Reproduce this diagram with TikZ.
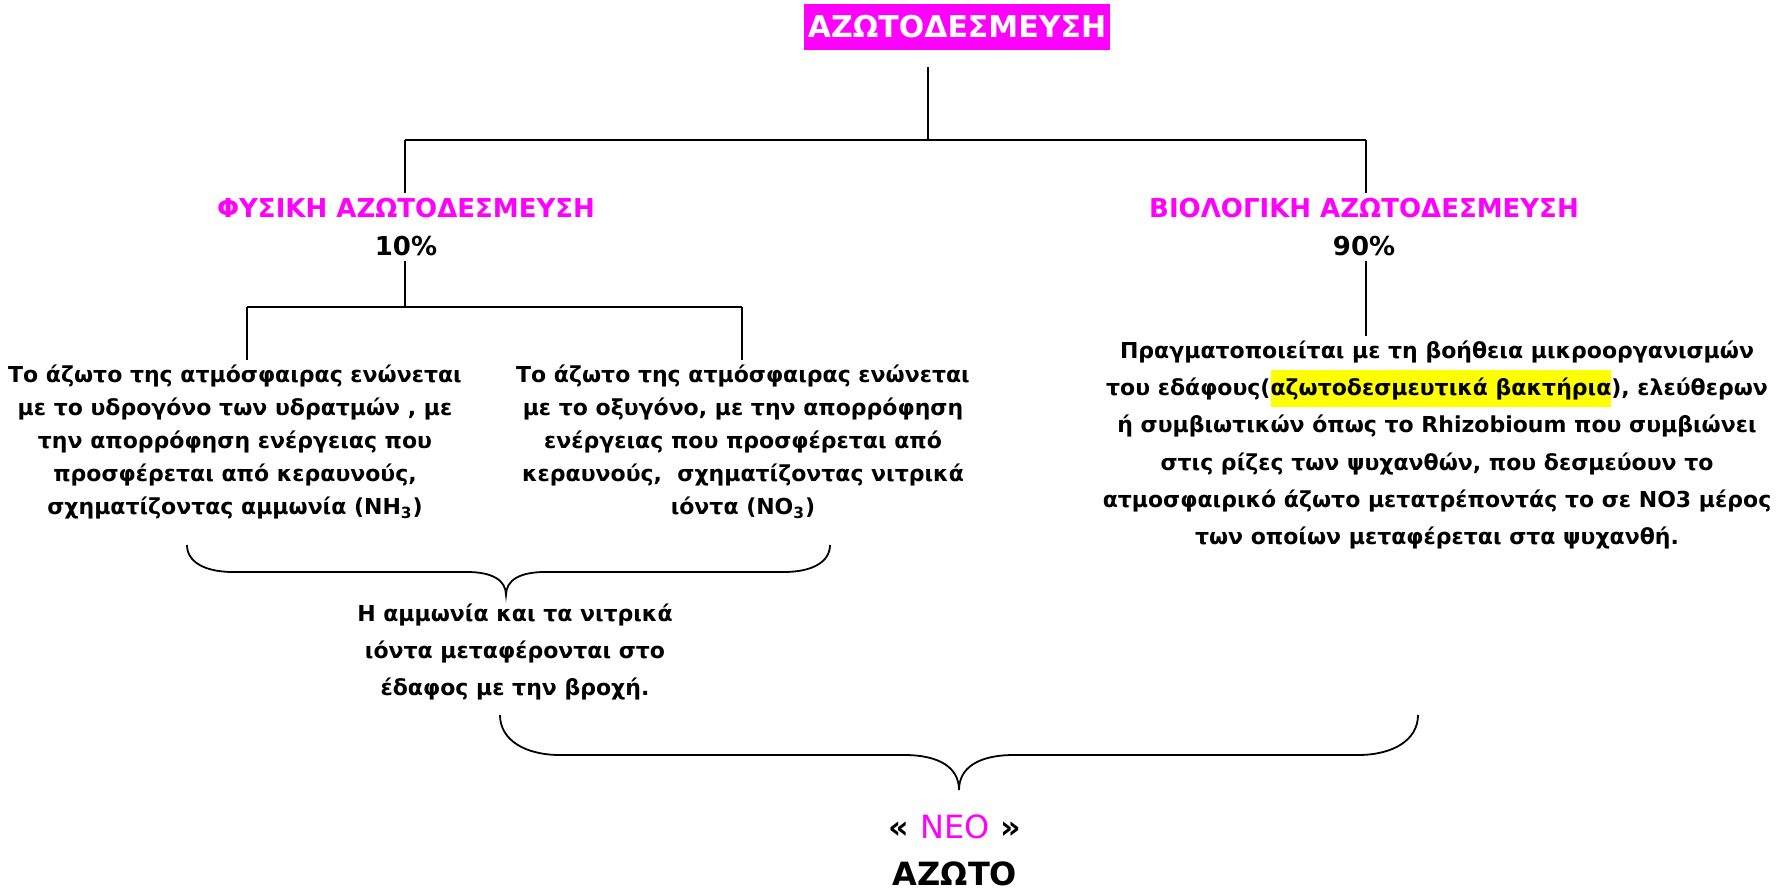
\documentclass[tikz,border=0pt]{standalone}
\usepackage{fontspec}
\setmainfont{DejaVu Sans}
\usetikzlibrary{positioning}
\definecolor{mag}{RGB}{255,0,255}
\definecolor{hl}{RGB}{255,255,0}
\setlength{\fboxsep}{0pt}

\tikzset{
	txt/.style={align=center, inner sep=2pt, font=\bfseries\fontsize{11}{16.5}\selectfont},
	txtwide/.style={align=center, inner sep=2pt, font=\bfseries\fontsize{11}{18.6}\selectfont},
	head/.style={align=center, inner sep=2pt, font=\bfseries\fontsize{13}{19}\selectfont},
	big/.style={align=center, inner sep=2pt, font=\bfseries\fontsize{15}{24.5}\selectfont},
}

\begin{document}
\begin{tikzpicture}[x=0.5pt, y=-0.5pt, line width=0.9pt]
	\useasboundingbox (0,0) rectangle (1780,893);
	%\draw[help lines] (0,0) grid[step=100] (1780,893);
	\node[big, fill=mag, text=white, inner ysep=6pt] (titlebox) at (957,27) {ΑΖΩΤΟΔΕΣΜΕΥΣΗ};
	\node[head] (fysiki) at (406,227) {\textcolor{mag}{ΦΥΣΙΚΗ ΑΖΩΤΟΔΕΣΜΕΥΣΗ}\\10\%};
	\node[head] (viologiki) at (1364,227) {\textcolor{mag}{ΒΙΟΛΟΓΙΚΗ ΑΖΩΤΟΔΕΣΜΕΥΣΗ}\\90\%};
	\node[txt] (ydro) at (235,442) {Το άζωτο της ατμόσφαιρας ενώνεται\\με το υδρογόνο των υδρατμών , με\\την απορρόφηση ενέργειας που\\προσφέρεται από κεραυνούς,\\σχηματίζοντας αμμωνία (NH\textsubscript{3})};
	\node[txt] (oxy) at (743,442) {Το άζωτο της ατμόσφαιρας ενώνεται\\με το οξυγόνο, με την απορρόφηση\\ενέργειας που προσφέρεται από\\κεραυνούς,\ \ σχηματίζοντας νιτρικά\\ιόντα (NO\textsubscript{3})};
	\node[txtwide] (bakt) at (1437,445) {Πραγματοποιείται με τη βοήθεια μικροοργανισμών\\του εδάφους(\colorbox{hl}{\strut αζωτοδεσμευτικά βακτήρια}), ελεύθερων\\ή συμβιωτικών όπως το Rhizobioum που συμβιώνει\\στις ρίζες των ψυχανθών, που δεσμεύουν το\\ατμοσφαιρικό άζωτο μετατρέποντάς το σε NO3 μέρος\\των οποίων μεταφέρεται στα ψυχανθή.};
	\node[txtwide] (vrochi) at (515,652) {Η αμμωνία και τα νιτρικά\\ιόντα μεταφέρονται στο\\έδαφος με την βροχή.};
	\node[big, font=\bfseries\fontsize{16}{23.5}\selectfont] (neo) at (955,850) {« {\mdseries\textcolor{mag}{ΝΕΟ}} »\\ΑΖΩΤΟ};
	% tree
	\coordinate (jtop) at (928,140);
	\coordinate (jfys) at (405,140);
	\coordinate (jviol) at (1366,140);
	\coordinate (jl) at (247,307);
	\coordinate (jm) at (405,307);
	\coordinate (jr) at (742,307);
	\draw (jtop |- titlebox.south) ++(0,16) -- (jtop);
	\draw (jfys) -- (jviol);
	\draw (jfys) -- (jfys |- fysiki.north);
	\draw (jviol) -- (jviol |- viologiki.north);
	\draw (jm |- fysiki.south) -- (jm);
	\draw (jl) -- (jr);
	\draw (jl) -- (jl |- ydro.north);
	\draw (jr) -- (jr |- oxy.north);
	\draw (viologiki.south -| jviol) -- (jviol |- bakt.north);
	% braces
	\draw (187,545) .. controls (187,562) and (205,572) .. (233,572) -- (467,572) .. controls (492,572) and (506,580) .. (506,595) .. controls (506,580) and (520,572) .. (545,572) -- (784,572) .. controls (812,572) and (830,562) .. (830,545);
	\draw (500,715) .. controls (500,740) and (525,755) .. (560,755) -- (904,755) .. controls (940,755) and (959,768) .. (959,790) .. controls (959,768) and (978,755) .. (1014,755) -- (1358,755) .. controls (1393,755) and (1418,740) .. (1418,715);
\end{tikzpicture}
\end{document}
